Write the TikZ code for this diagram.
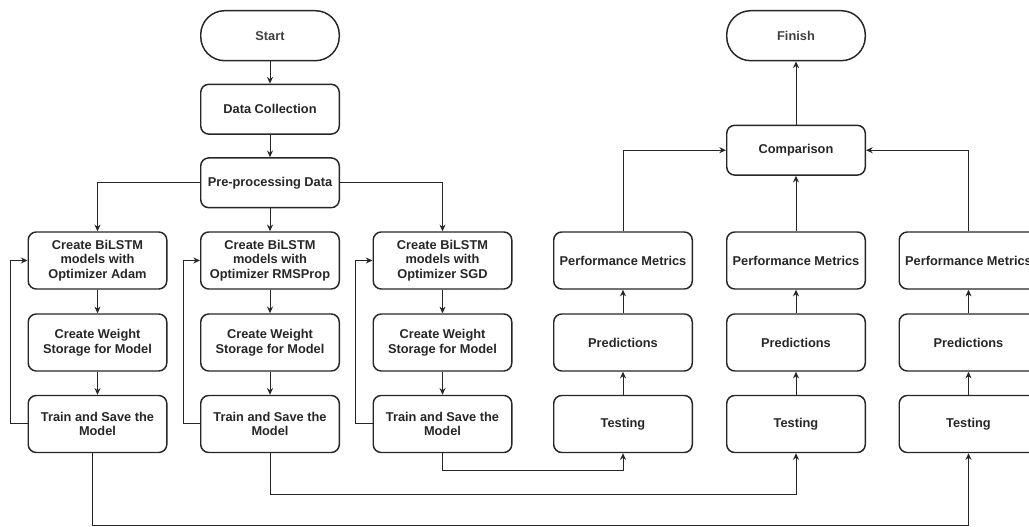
\documentclass[tikz,border=0pt]{standalone}
\usepackage{fontspec}
\setmainfont{Liberation Sans}
\usetikzlibrary{arrows.meta,calc}
\begin{document}
\begin{tikzpicture}[x=0.75pt,y=-0.75pt,
 box/.style={draw=black!85, line width=1.1pt, rounded corners=6pt, minimum width=103.9pt, minimum height=42.75pt, inner sep=0pt, align=center, font=\fontsize{9.6}{11}\selectfont\bfseries, text=black!85},
 shortbox/.style={box, minimum height=37.3pt},
 term/.style={box, rounded corners=18pt, minimum height=37.5pt, text=black!75},
 conn/.style={draw=black!85, line width=0.75pt, -{Stealth[length=5pt,width=4.5pt]}}]
\useasboundingbox (0,0) rectangle (1029,527);
\clip (0,0) rectangle (1029,527);
% left part
\node[term] (start) at (270,35.7) {Start};
\node[shortbox] (data) at (270,109.2) {Data Collection};
\node[shortbox] (pre) at (270,182.8) {Pre-processing Data};
\node[box] (adam) at (97.5,260.5) {Create BiLSTM\\models with\\Optimizer Adam};
\node[box] (rms) at (270,260.5) {Create BiLSTM\\models with\\Optimizer RMSProp};
\node[box] (sgd) at (442.5,260.5) {Create BiLSTM\\models with\\Optimizer SGD};
\node[box] (adamw) at (97.5,342.5) {Create Weight\\Storage for Model};
\node[box] (rmsw) at (270,342.5) {Create Weight\\Storage for Model};
\node[box] (sgdw) at (442.5,342.5) {Create Weight\\Storage for Model};
\node[box] (adamt) at (97.5,424) {Train and Save the\\Model};
\node[box] (rmst) at (270,424) {Train and Save the\\Model};
\node[box] (sgdt) at (442.5,424) {Train and Save the\\Model};
% right part
\node[term] (finish) at (796,35.7) {Finish};
\node[shortbox] (comp) at (796,150.2) {Comparison};
\node[box] (perf1) at (623,260.5) {Performance Metrics};
\node[box] (perf2) at (796,260.5) {Performance Metrics};
\node[box] (perf3) at (968.5,260.5) {Performance Metrics};
\node[box] (pred1) at (623,342.5) {Predictions};
\node[box] (pred2) at (796,342.5) {Predictions};
\node[box] (pred3) at (968.5,342.5) {Predictions};
\node[box] (test1) at (623,424) {Testing};
\node[box] (test2) at (796,424) {Testing};
\node[box] (test3) at (968.5,424) {Testing};
% connectors left
\draw[conn] (start) -- (data);
\draw[conn] (data) -- (pre);
\draw[conn] (pre.west) -| (adam.north);
\draw[conn] (pre) -- (rms);
\draw[conn] (pre.east) -| (sgd.north);
\draw[conn] (adam) -- (adamw);
\draw[conn] (adamw) -- (adamt);
\draw[conn] (rms) -- (rmsw);
\draw[conn] (rmsw) -- (rmst);
\draw[conn] (sgd) -- (sgdw);
\draw[conn] (sgdw) -- (sgdt);
\draw[conn] (adamt.west) -- ++(-16.6,0) |- (adam.west);
\draw[conn] (rmst.west) -- ++(-16.7,0) |- (rms.west);
\draw[conn] (sgdt.west) -- ++(-16.6,0) |- (sgd.west);
% to testing
\coordinate (b1) at (92,525.6);
\draw[conn] (adamt.south -| b1) -- (b1) -| (test3.south);
\draw[conn] (rmst.south) -- ++(0,41) -| (test2.south);
\draw[conn] (sgdt.south) -- ++(0,17) -| (test1.south);
% right columns
\draw[conn] (test1) -- (pred1);
\draw[conn] (pred1) -- (perf1);
\draw[conn] (test2) -- (pred2);
\draw[conn] (pred2) -- (perf2);
\draw[conn] (test3) -- (pred3);
\draw[conn] (pred3) -- (perf3);
\draw[conn] (perf1.north) |- (comp.west);
\draw[conn] (perf2) -- (comp);
\draw[conn] (perf3.north) |- (comp.east);
\draw[conn] (comp) -- (finish);
\end{tikzpicture}
\end{document}
